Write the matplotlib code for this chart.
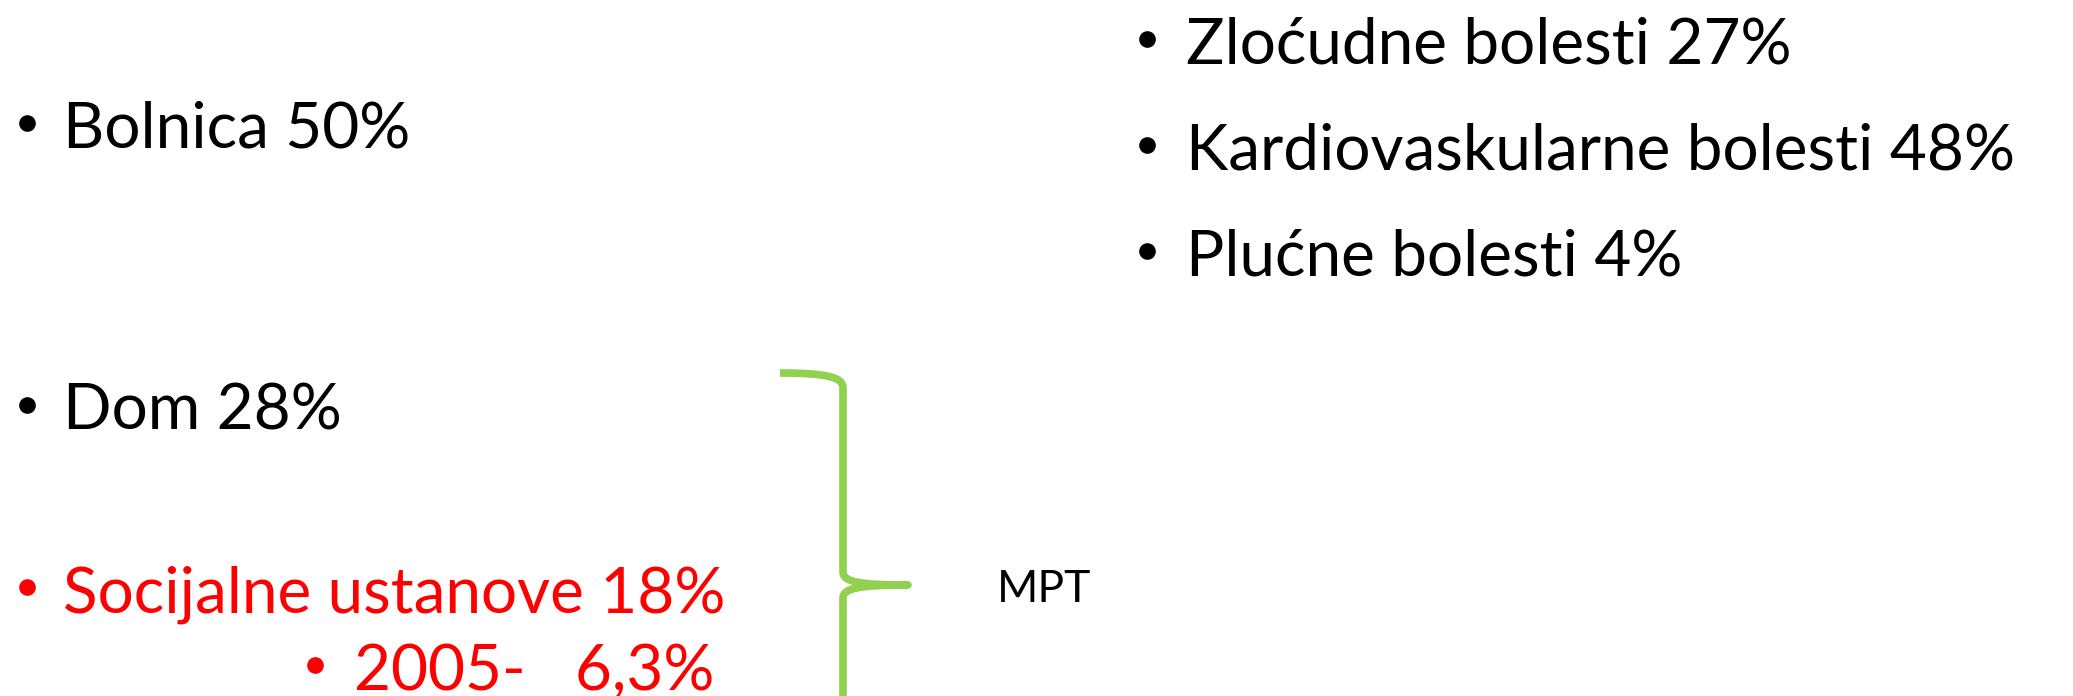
import matplotlib.pyplot as plt
from matplotlib.path import Path
from matplotlib.patches import PathPatch

# left column: place of death, right column: causes
left_items = ["Bolnica 50%", "Dom 28%", "Socijalne ustanove 18%"]
left_colors = ["black", "black", "red"]
sub_item = "2005-   6,3%"
right_items = ["Zloćudne bolesti 27%", "Kardiovaskularne bolesti 48%", "Plućne bolesti 4%"]
brace_label = "MPT"

W, H = 2073, 696
fig = plt.figure(figsize=(W / 100, H / 100), dpi=100)
ax = fig.add_axes([0, 0, 1, 1])
ax.set_xlim(0, W)
ax.set_ylim(H, 0)
ax.axis("off")

font = "Lato"
fs = 46
bullet_up = 25   # bullet centre above baseline
bullet_ms = 12


def item(xb, xt, yb, txt, col):
    ax.plot([xb], [yb - bullet_up], "o", color=col, ms=bullet_ms, mec="none")
    ax.text(xt, yb, txt, color=col, fontsize=fs, family=font, va="baseline")


left_base = [148, 430, 612]
for txt, col, yb in zip(left_items, left_colors, left_base):
    item(27, 63, yb, txt, col)

item(315, 354, 690, sub_item, "red")

right_base = [64, 170, 276]
for txt, yb in zip(right_items, right_base):
    item(1147, 1186, yb, txt, "black")

# green curly brace
verts = [(780, 373), (830, 373), (843, 378), (843, 388),
         (843, 572),
         (843, 582), (860, 585), (908, 585),
         (860, 585), (843, 588), (843, 598),
         (843, 700)]
codes = [Path.MOVETO, Path.CURVE4, Path.CURVE4, Path.CURVE4,
         Path.LINETO,
         Path.CURVE4, Path.CURVE4, Path.CURVE4,
         Path.CURVE4, Path.CURVE4, Path.CURVE4,
         Path.LINETO]
ax.add_patch(PathPatch(Path(verts, codes), fill=False, edgecolor="#92D050", lw=5.5,
                       capstyle="butt", joinstyle="round"))

ax.text(997, 602, brace_label, fontsize=32, family=font, va="baseline", color="black")

fig.savefig("out.png", dpi=100)
